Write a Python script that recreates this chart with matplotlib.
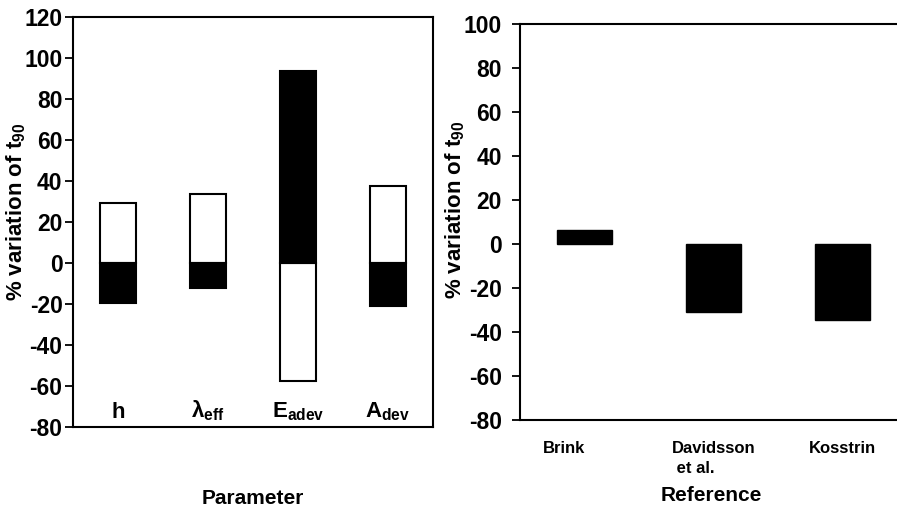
import matplotlib
matplotlib.use("Agg")
import matplotlib.pyplot as plt
import matplotlib.transforms as mtransforms
import numpy as np

plt.rcParams["font.family"] = ["Liberation Sans", "DejaVu Sans"]
plt.rcParams["font.weight"] = "bold"
plt.rcParams["axes.unicode_minus"] = False
plt.rcParams["mathtext.fontset"] = "custom"
plt.rcParams["mathtext.rm"] = "Liberation Sans:bold"
plt.rcParams["mathtext.it"] = "Liberation Sans:bold"
plt.rcParams["mathtext.bf"] = "Liberation Sans:bold"
plt.rcParams["mathtext.default"] = "rm"

# Sensitivity of t90 to each parameter (increase = white, decrease = black)
parameters = [r"$\mathregular{h}$", r"$\lambda_{eff}$", r"$E_{adev}$", r"$A_{dev}$"]
increase_pct = [29.5, 33.5, -57.5, 37.5]
decrease_pct = [-19.5, -12.0, 93.5, -21.0]

# Comparison against published references
references = ["Brink", "Davidsson\n et al.", "Kosstrin"]
reference_pct = [6.5, -31.0, -34.5]

left_ticks = np.arange(-80, 121, 20)
right_ticks = np.arange(-80, 101, 20)

W, H = 897, 511
fig = plt.figure(figsize=(W / 100, H / 100), dpi=100)

ax1 = fig.add_axes([73 / W, (H - 427) / H, 360 / W, 410 / H])
ax2 = fig.add_axes([520 / W, (H - 420) / H, 387 / W, 396 / H])

ylabel = "% variation of t$_{90}$"
TICK_FS = 16.5
YLAB_FS = 16

# Left panel: parameters
x = np.arange(len(parameters))
ax1.bar(x, increase_pct, width=0.4, color="white", edgecolor="black", linewidth=1.5)
ax1.bar(x, decrease_pct, width=0.4, color="black", edgecolor="black", linewidth=1.5)
ax1.set_xlim(-0.5, len(parameters) - 0.5)
ax1.set_ylim(-80, 120)
ax1.set_yticks(left_ticks)
ax1.set_xticks([])
for xi, name in zip(x, parameters):
    ax1.text(xi, -75.5, name, ha="center", va="baseline", fontsize=16, fontweight="bold")
ax1.set_xlabel("Parameter", fontsize=15, fontweight="bold")
ax1.xaxis.set_label_coords(0.5, -0.152)
ax1.set_ylabel(ylabel, fontsize=YLAB_FS, fontweight="bold")
ax1.yaxis.set_label_coords(-0.125, 0.525)
ax1.tick_params(axis="y", direction="out", length=6, width=1.3, pad=1.5, labelsize=TICK_FS)
for sp in ax1.spines.values():
    sp.set_linewidth(1.5)

# Right panel: references
xr = np.arange(len(references))
ax2.bar(xr, reference_pct, width=0.42, color="black", edgecolor="black", linewidth=1.0)
ax2.set_xlim(-0.5, len(references) - 0.5)
ax2.set_ylim(-80, 100)
ax2.set_yticks(right_ticks)
ax2.set_xticks(xr)
ax2.set_xticklabels(references, fontsize=12, fontweight="bold",
                    linespacing=1.45, multialignment="left")
ax2.tick_params(axis="x", length=0, pad=15)
ax2.tick_params(axis="y", direction="out", length=6, width=1.3, pad=7, labelsize=TICK_FS)
# the first reference label sits a little left of its bar
lbl = ax2.get_xticklabels()[0]
lbl.set_transform(lbl.get_transform() + mtransforms.ScaledTranslation(-21 / 100, 0, fig.dpi_scale_trans))
ax2.set_xlabel("Reference", fontsize=15, fontweight="bold")
ax2.xaxis.set_label_coords(0.495, -0.167)
ax2.set_ylabel(ylabel, fontsize=YLAB_FS, fontweight="bold")
ax2.yaxis.set_label_coords(-0.137, 0.53)
for sp in ax2.spines.values():
    sp.set_linewidth(1.5)

fig.savefig("out.png", dpi=100)
